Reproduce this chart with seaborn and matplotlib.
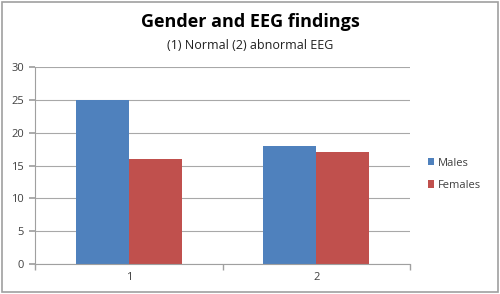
import matplotlib
matplotlib.use("Agg")
import matplotlib.pyplot as plt
import seaborn as sns
import pandas as pd
from matplotlib.patches import Rectangle

categories = ["1", "2"]
males = [25, 18]
females = [16, 17]
series_names = ["Males", "Females"]
yticks = [0, 5, 10, 15, 20, 25, 30]

df = pd.DataFrame({
    "cat": categories * 2,
    "value": males + females,
    "series": [series_names[0]] * 2 + [series_names[1]] * 2,
})

sns.set_theme(style="white")
plt.rcParams['font.family'] = ['Open Sans', 'DejaVu Sans']

fig = plt.figure(figsize=(5, 2.94), dpi=100)
ax = fig.add_axes([0.07, 0.102, 0.75, 0.670])

sns.barplot(data=df, x="cat", y="value", hue="series", ax=ax,
            palette=["#4F81BD", "#C0504D"], width=0.567, gap=0,
            saturation=1, edgecolor="none", linewidth=0)

ax.set_ylim(0, 30)
ax.set_xlim(-0.5, 1.5)
ax.set_yticks(yticks)
ax.yaxis.grid(True, color="#A8A8A8", linewidth=0.8)
ax.set_axisbelow(True)
ax.set_xlabel("")
ax.set_ylabel("")
for s in ["top", "right"]:
    ax.spines[s].set_visible(False)
for s in ["left", "bottom"]:
    ax.spines[s].set_color("#A0A0A0")
    ax.spines[s].set_linewidth(0.8)

ax.set_xticks([0, 1])
ax.set_xticklabels(categories)
ax.tick_params(axis="x", length=0, labelsize=8, colors="#404040", pad=6)
ax.set_xticks([-0.5, 0.5, 1.5], minor=True)
ax.tick_params(axis="x", which="minor", length=4, color="#A0A0A0", direction="out", bottom=True)
ax.tick_params(axis="y", length=4, color="#A0A0A0", direction="out", left=True,
               labelsize=8, labelcolor="#404040", pad=4)

ax.legend(loc="center left", bbox_to_anchor=(1.02, 0.455), frameon=False,
          fontsize=8, handlelength=0.6, handleheight=0.6, handletextpad=0.3,
          labelspacing=1.0, labelcolor="#404040")

fig.text(0.5, 0.925, "Gender and EEG findings", ha="center", va="center",
         fontsize=13, fontweight="bold", color="#000000")
fig.text(0.5, 0.845, "(1) Normal (2) abnormal EEG", ha="center", va="center",
         fontsize=9, color="#202020")

fig.patches.append(Rectangle((0.004, 0.007), 0.992, 0.986, transform=fig.transFigure,
                             fill=False, edgecolor="#A0A0A0", linewidth=1.2))

fig.savefig("out.png", dpi=100)
